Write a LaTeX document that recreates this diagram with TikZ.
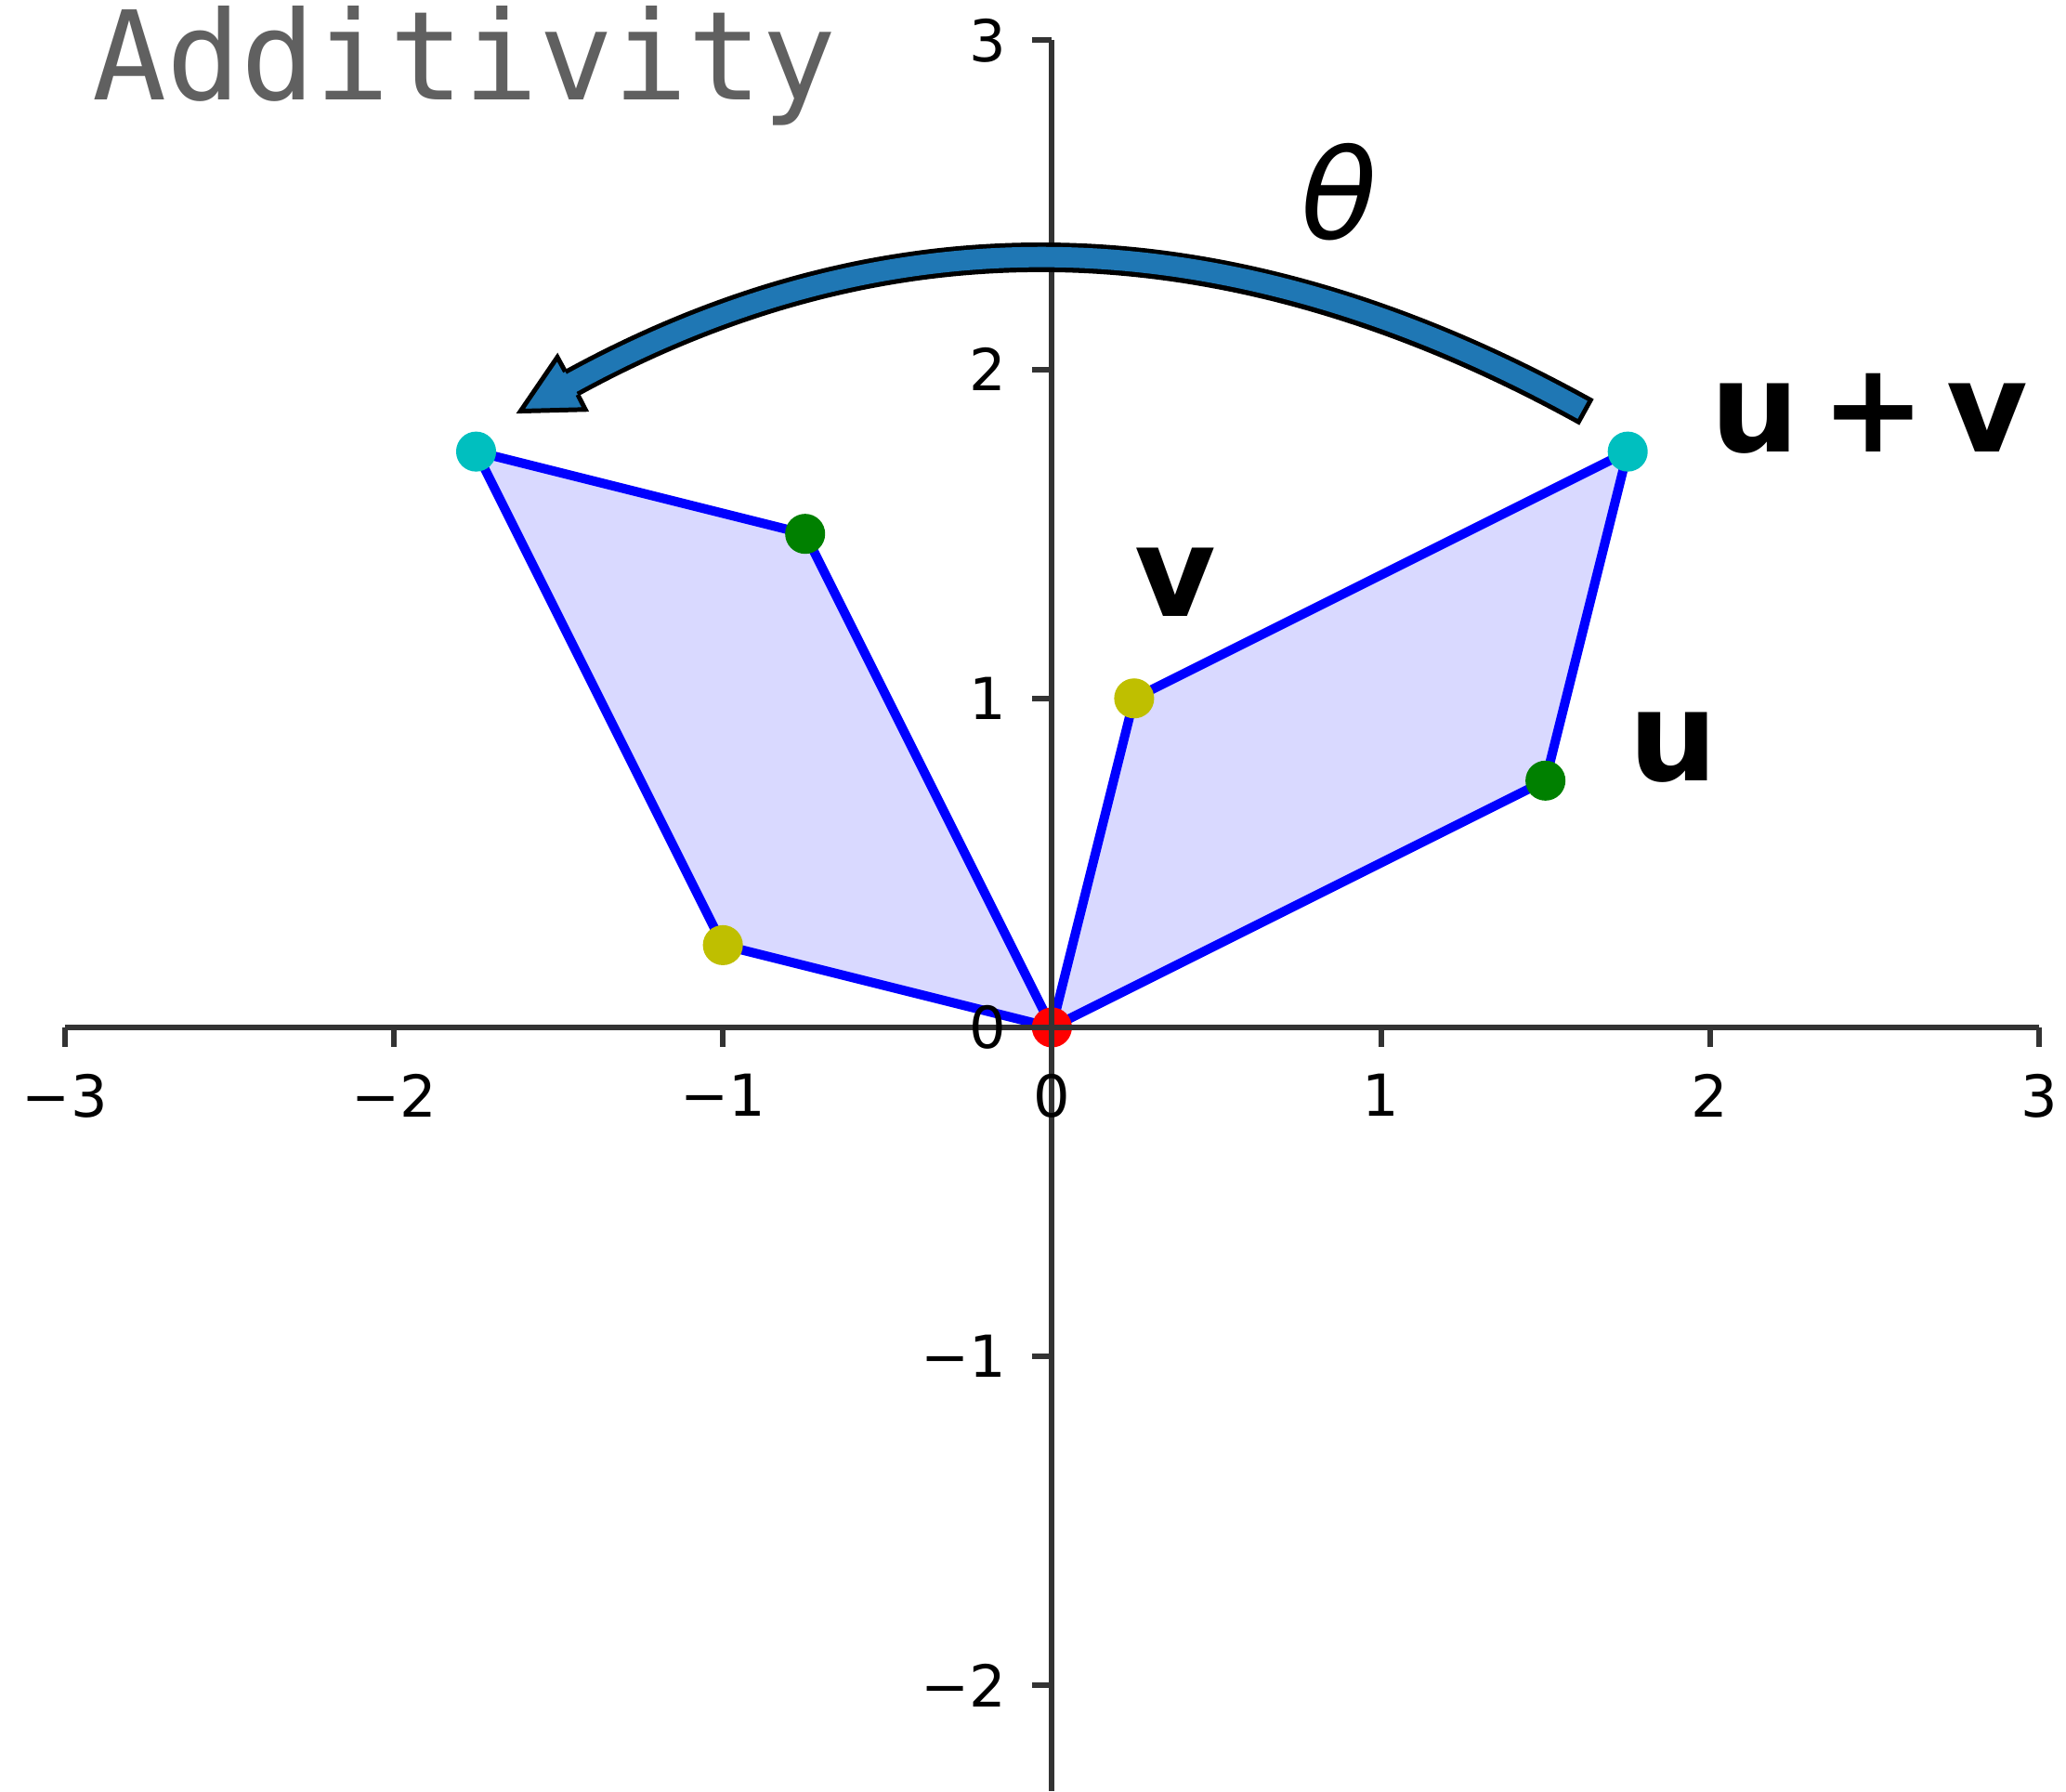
\documentclass[tikz,border=0pt]{standalone}
\usepackage{fontspec}
\setmainfont{DejaVu Sans}
\newfontfamily\titlefont{DejaVu Sans Mono}
\usetikzlibrary{positioning}
\definecolor{arrowblue}{HTML}{1F77B4}
\definecolor{areafill}{HTML}{D9D9FF}
\definecolor{spinegray}{HTML}{333333}
\definecolor{titlegray}{HTML}{606060}
\definecolor{dotcyan}{rgb}{0,0.75,0.75}
\definecolor{dotgreen}{rgb}{0,0.5,0}
\definecolor{dotyellow}{rgb}{0.75,0.75,0}

\begin{document}
\begin{tikzpicture}[x=2.5cm, y=2.5cm,
    spine/.style={draw=spinegray, line width=1.2pt},
    ticklabel/.style={inner sep=0pt, font=\fontsize{12.5}{15}\selectfont},
    veclabel/.style={inner sep=0pt, anchor=base west, font=\fontsize{27}{32}\selectfont\bfseries},
    area/.style={fill=areafill, draw=blue, line width=2pt, line join=round},
    dot/.style={circle, inner sep=0pt, minimum size=0.304cm}]
  \useasboundingbox (-3.197,-2.321) rectangle (3.082,3.1225);

  % points before and after the rotation
  \coordinate (o) at (0,0);
  \coordinate (u) at (1.5,0.75);
  \coordinate (v) at (0.25,1);
  \coordinate (uv) at (1.75,1.75);
  \coordinate (ru) at (-0.75,1.5);
  \coordinate (rv) at (-1,0.25);
  \coordinate (ruv) at (-1.75,1.75);

  \path[area] (o) -- (u) -- (uv) -- (v) -- cycle;
  \path[area] (o) -- (ru) -- (ruv) -- (rv) -- cycle;

  \node[dot, fill=red] (odot) at (o) {};
  \node[dot, fill=dotgreen] (udot) at (u) {};
  \node[dot, fill=dotyellow] (vdot) at (v) {};
  \node[dot, fill=dotcyan] (uvdot) at (uv) {};
  \node[dot, fill=dotgreen] (rudot) at (ru) {};
  \node[dot, fill=dotyellow] (rvdot) at (rv) {};
  \node[dot, fill=dotcyan] (ruvdot) at (ruv) {};

  % axes through the origin
  \draw[spine] (-3,0) -- (3,0);
  \draw[spine] (0,3) -- (0,-2.321);
  \foreach \k/\t in {-3/−3, -2/−2, -1/−1, 0/0, 1/1, 2/2, 3/3} {
    \draw[spine] (\k,0) -- (\k,-0.059);
    \node[ticklabel, anchor=north] (xt\k) at (\k,-0.138) {\t};
  }
  \foreach \k/\t in {-2/−2, -1/−1, 0/0, 1/1, 2/2, 3/3} {
    \draw[spine] (0,\k) -- (-0.059,\k);
    \node[ticklabel, anchor=east] (yt\k) at (-0.135,\k) {\t};
  }

  \node[inner sep=0pt, anchor=base west, text=titlegray,
        font=\titlefont\fontsize{26.7}{32}\selectfont] (title) at (-2.918,2.818) {Additivity};
  \node[veclabel] (uvlabel) at (2.0,1.75) {u\hspace{0.17em}+\hspace{0.17em}v};
  \node[veclabel] (ulabel) at (1.75,0.75) {u};
  \node[veclabel] (vlabel) at (0.25,1.25) {v};
  \node[inner sep=0pt, font=\fontsize{27}{32}\selectfont\itshape] (theta) at (0.874,2.54) {θ};

  % rotation arrow
  \coordinate (tail) at (1.625,1.870);
  \coordinate (headbase) at (-1.478,1.9485);
  \draw[line width=6.4pt, black] (tail) .. controls (0.5417,2.47) and (-0.4927,2.4962) .. (headbase);
  \draw[line width=4.4pt, arrowblue, shorten <=1pt] (tail) .. controls (0.5417,2.47) and (-0.4927,2.4962) .. (headbase);
  \filldraw[fill=arrowblue, draw=black, line width=1pt]
    (-1.479,1.993) -- (-1.503,2.037) -- (-1.615,1.873) -- (-1.418,1.878) -- (-1.441,1.923);
\end{tikzpicture}
\end{document}
